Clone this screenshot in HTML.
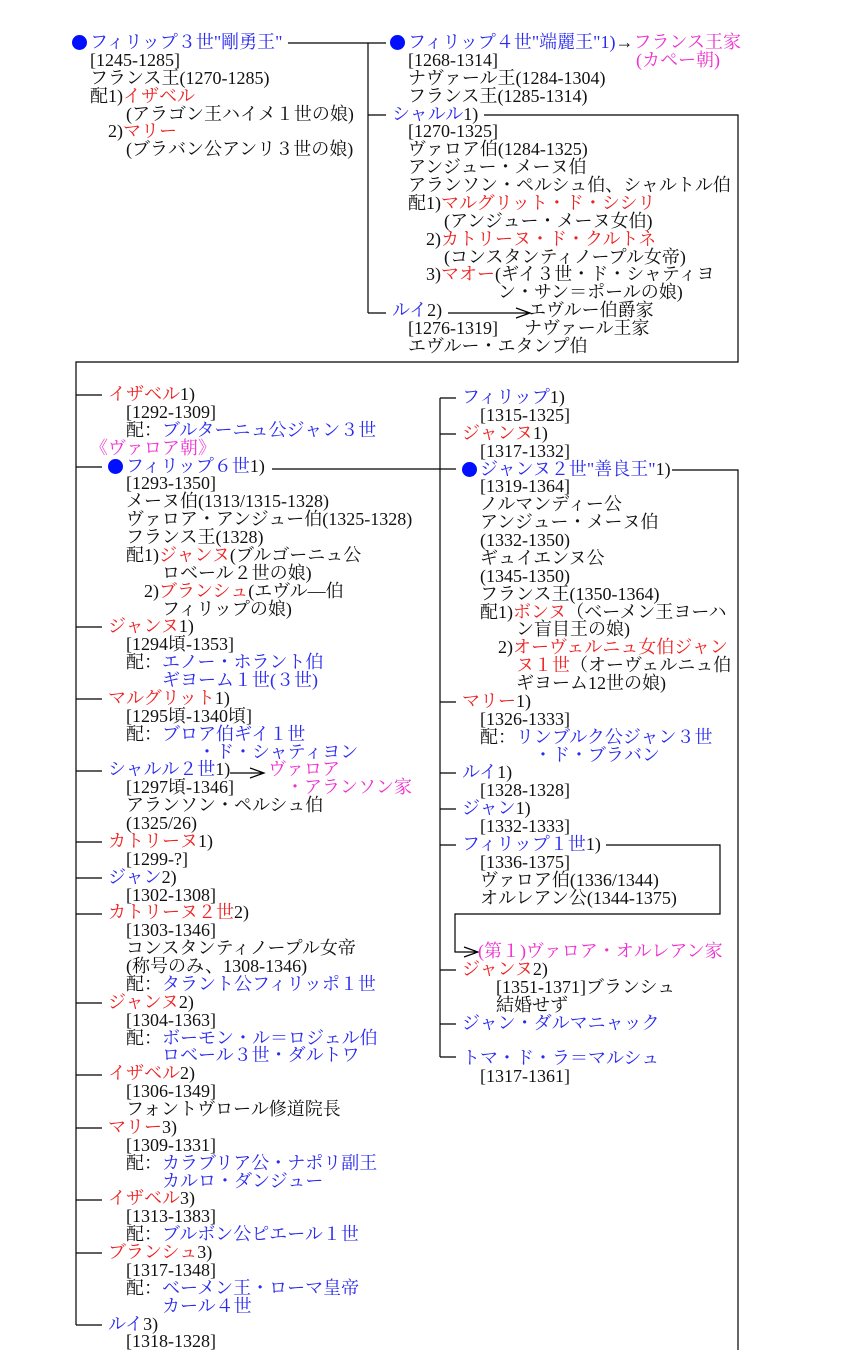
<!DOCTYPE html>
<html><head><meta charset="utf-8">
<style>
body{margin:0;width:860px;height:1350px;background:#fff;position:relative;overflow:hidden;
font-family:"Liberation Serif","Noto Serif CJK SC",serif;font-size:18px;color:#111;}
.blk{position:absolute;line-height:17.88px;}
.blk div{height:17.88px;white-space:pre;}
.b{color:#2a2af0}.r{color:#f02020}.m{color:#f030d0}
.dot{display:inline-block;width:15px;height:15px;border-radius:50%;background:#0010ff;vertical-align:-2px;margin-right:3px}
svg{position:absolute;left:0;top:0}
</style></head><body>
<svg width="860" height="1350" fill="none" stroke="#000" stroke-width="1.2">
<path d="M288 43H368M368 43V313M368 43H386M368 115H386M368 313H386"/>
<path d="M484 115H738V362H76V1325"/>
<path d="M448 313H528M516 308L530 313L516 318"/>
<path d="M76 395H102M76 467H102M76 627H102M76 699H102M76 771H102M76 842H102M76 878H102M76 914H102M76 1003H102M76 1075H102M76 1128H102M76 1200H102M76 1253H102M76 1325H102"/>
<path d="M272 469H440M440 398V1057M440 398H456M440 434H456M440 469H456M440 702H456M440 773H456M440 809H456M440 845H456M440 970H456M440 1024H456M440 1057H456"/>
<path d="M672 470H738V1350"/>
<path d="M606 845H720V914H455V952H476M464 947L478 952L464 957"/>
<path d="M230 773H262M250 768L264 773L250 778"/>
</svg>

<div class="blk" style="left:72px;top:34px">
<div><i class="dot"></i><span class="b">フィリップ３世"剛勇王"</span></div>
<div style="padding-left:18px">[1245-1285]</div>
<div style="padding-left:18px">フランス王(1270-1285)</div>
<div style="padding-left:18px">配1)<span class="r">イザベル</span></div>
<div style="padding-left:54px">(アラゴン王ハイメ１世の娘)</div>
<div style="padding-left:36px">2)<span class="r">マリー</span></div>
<div style="padding-left:54px">(ブラバン公アンリ３世の娘)</div>
</div>

<div class="blk" style="left:390px;top:34px">
<div><i class="dot"></i><span class="b">フィリップ４世"端麗王"1)</span>→<span class="m">フランス王家</span></div>
<div style="padding-left:18px">[1268-1314]<span class="m" style="padding-left:138px">(カペー朝)</span></div>
<div style="padding-left:18px">ナヴァール王(1284-1304)</div>
<div style="padding-left:18px">フランス王(1285-1314)</div>
<div style="padding-left:2px"><span class="b">シャルル</span>1)</div>
<div style="padding-left:18px">[1270-1325]</div>
<div style="padding-left:18px">ヴァロア伯(1284-1325)</div>
<div style="padding-left:18px">アンジュー・メーヌ伯</div>
<div style="padding-left:18px">アランソン・ペルシュ伯、シャルトル伯</div>
<div style="padding-left:18px">配1)<span class="r">マルグリット・ド・シシリ</span></div>
<div style="padding-left:54px">(アンジュー・メーヌ女伯)</div>
<div style="padding-left:36px">2)<span class="r">カトリーヌ・ド・クルトネ</span></div>
<div style="padding-left:54px">(コンスタンティノープル女帝)</div>
<div style="padding-left:36px">3)<span class="r">マオー</span>(ギイ３世・ド・シャティヨ</div>
<div style="padding-left:108px">ン・サン＝ポールの娘)</div>
<div style="padding-left:2px"><span class="b">ルイ</span>2)<span style="padding-left:86px">エヴルー伯爵家</span></div>
<div style="padding-left:18px">[1276-1319]<span style="padding-left:26px">ナヴァール王家</span></div>
<div style="padding-left:18px">エヴルー・エタンプ伯</div>
</div>

<div class="blk" style="left:108px;top:386px">
<div><span class="r">イザベル</span>1)</div>
<div style="padding-left:18px">[1292-1309]</div>
<div style="padding-left:18px">配：<span class="b">ブルターニュ公ジャン３世</span></div>
<div style="margin-left:-18px" class="m">《ヴァロア朝》</div>
<div><i class="dot"></i><span class="b">フィリップ６世</span>1)</div>
<div style="padding-left:18px">[1293-1350]</div>
<div style="padding-left:18px">メーヌ伯(1313/1315-1328)</div>
<div style="padding-left:18px">ヴァロア・アンジュー伯(1325-1328)</div>
<div style="padding-left:18px">フランス王(1328)</div>
<div style="padding-left:18px">配1)<span class="r">ジャンヌ</span>(ブルゴーニュ公</div>
<div style="padding-left:54px">ロベール２世の娘)</div>
<div style="padding-left:36px">2)<span class="r">ブランシュ</span>(エヴル―伯</div>
<div style="padding-left:54px">フィリップの娘)</div>
<div><span class="r">ジャンヌ</span>1)</div>
<div style="padding-left:18px">[1294頃-1353]</div>
<div style="padding-left:18px">配：<span class="b">エノー・ホラント伯</span></div>
<div style="padding-left:54px" class="b">ギヨーム１世(３世)</div>
<div><span class="r">マルグリット</span>1)</div>
<div style="padding-left:18px">[1295頃-1340頃]</div>
<div style="padding-left:18px">配：<span class="b">ブロア伯ギイ１世</span></div>
<div style="padding-left:90px" class="b">・ド・シャティヨン</div>
<div><span class="b">シャルル２世</span>1)<span class="m" style="padding-left:38px">ヴァロア</span></div>
<div style="padding-left:18px">[1297頃-1346]<span class="m" style="padding-left:52px">・アランソン家</span></div>
<div style="padding-left:18px">アランソン・ペルシュ伯</div>
<div style="padding-left:18px">(1325/26)</div>
<div><span class="r">カトリーヌ</span>1)</div>
<div style="padding-left:18px">[1299-?]</div>
<div><span class="b">ジャン</span>2)</div>
<div style="padding-left:18px">[1302-1308]</div>
<div><span class="r">カトリーヌ２世</span>2)</div>
<div style="padding-left:18px">[1303-1346]</div>
<div style="padding-left:18px">コンスタンティノープル女帝</div>
<div style="padding-left:18px">(称号のみ、1308-1346)</div>
<div style="padding-left:18px">配：<span class="b">タラント公フィリッポ１世</span></div>
<div><span class="r">ジャンヌ</span>2)</div>
<div style="padding-left:18px">[1304-1363]</div>
<div style="padding-left:18px">配：<span class="b">ボーモン・ル＝ロジェル伯</span></div>
<div style="padding-left:54px" class="b">ロベール３世・ダルトワ</div>
<div><span class="r">イザベル</span>2)</div>
<div style="padding-left:18px">[1306-1349]</div>
<div style="padding-left:18px">フォントヴロール修道院長</div>
<div><span class="r">マリー</span>3)</div>
<div style="padding-left:18px">[1309-1331]</div>
<div style="padding-left:18px">配：<span class="b">カラブリア公・ナポリ副王</span></div>
<div style="padding-left:54px" class="b">カルロ・ダンジュー</div>
<div><span class="r">イザベル</span>3)</div>
<div style="padding-left:18px">[1313-1383]</div>
<div style="padding-left:18px">配：<span class="b">ブルボン公ピエール１世</span></div>
<div><span class="r">ブランシュ</span>3)</div>
<div style="padding-left:18px">[1317-1348]</div>
<div style="padding-left:18px">配：<span class="b">ベーメン王・ローマ皇帝</span></div>
<div style="padding-left:54px" class="b">カール４世</div>
<div><span class="b">ルイ</span>3)</div>
<div style="padding-left:18px">[1318-1328]</div>
</div>

<div class="blk" style="left:462px;top:389px">
<div><span class="b">フィリップ</span>1)</div>
<div style="padding-left:18px">[1315-1325]</div>
<div><span class="r">ジャンヌ</span>1)</div>
<div style="padding-left:18px">[1317-1332]</div>
<div><i class="dot"></i><span class="b">ジャンヌ２世"善良王"</span>1)</div>
<div style="padding-left:18px">[1319-1364]</div>
<div style="padding-left:18px">ノルマンディー公</div>
<div style="padding-left:18px">アンジュー・メーヌ伯</div>
<div style="padding-left:18px">(1332-1350)</div>
<div style="padding-left:18px">ギュイエンヌ公</div>
<div style="padding-left:18px">(1345-1350)</div>
<div style="padding-left:18px">フランス王(1350-1364)</div>
<div style="padding-left:18px">配1)<span class="r">ボンヌ</span>（ベーメン王ヨーハ</div>
<div style="padding-left:54px">ン盲目王の娘)</div>
<div style="padding-left:36px">2)<span class="r">オーヴェルニュ女伯ジャン</span></div>
<div style="padding-left:54px"><span class="r">ヌ１世</span>（オーヴェルニュ伯</div>
<div style="padding-left:54px">ギヨーム12世の娘)</div>
<div><span class="r">マリー</span>1)</div>
<div style="padding-left:18px">[1326-1333]</div>
<div style="padding-left:18px">配：<span class="b">リンブルク公ジャン３世</span></div>
<div style="padding-left:72px" class="b">・ド・ブラバン</div>
<div><span class="b">ルイ</span>1)</div>
<div style="padding-left:18px">[1328-1328]</div>
<div><span class="b">ジャン</span>1)</div>
<div style="padding-left:18px">[1332-1333]</div>
<div><span class="b">フィリップ１世</span>1)</div>
<div style="padding-left:18px">[1336-1375]</div>
<div style="padding-left:18px">ヴァロア伯(1336/1344)</div>
<div style="padding-left:18px">オルレアン公(1344-1375)</div>
<div></div>
<div></div>
<div style="padding-left:16px" class="m">(第１)ヴァロア・オルレアン家</div>
<div><span class="r">ジャンヌ</span>2)</div>
<div style="padding-left:34px">[1351-1371]ブランシュ</div>
<div style="padding-left:34px">結婚せず</div>
<div class="b">ジャン・ダルマニャック</div>
<div></div>
<div class="b">トマ・ド・ラ＝マルシュ</div>
<div style="padding-left:18px">[1317-1361]</div>
</div>
</body></html>
